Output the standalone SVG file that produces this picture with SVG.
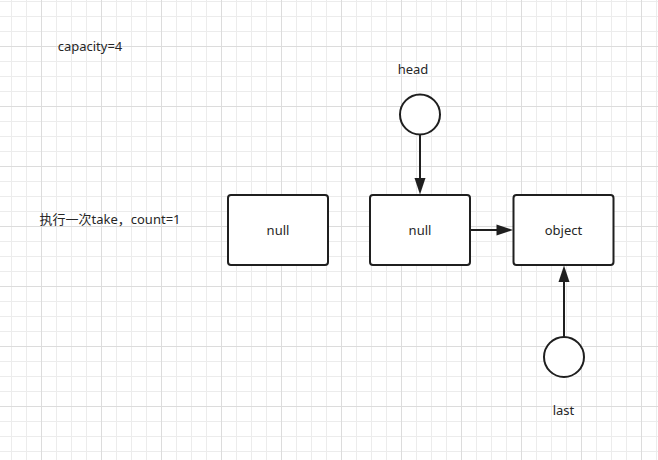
<svg xmlns="http://www.w3.org/2000/svg" width="658" height="460" viewBox="0 0 658 460">
<style>
.box{fill:#ffffff;stroke:#1f1f1f;stroke-width:2}
.circ{fill:#ffffff;stroke:#1f1f1f;stroke-width:2}
.edge{fill:none;stroke:#1f1f1f;stroke-width:2}
.lbl{font-family:"Noto Sans","Noto Sans CJK SC",sans-serif;font-size:13px;fill:#262626}
</style>
<defs>
<pattern id="minor" patternUnits="userSpaceOnUse" x="11" y="1" width="15" height="15">
<path d="M0 0.5H15M0.5 0V15" fill="none" stroke="#ececec" stroke-width="1"/>
</pattern>
<pattern id="major" patternUnits="userSpaceOnUse" x="41" y="46" width="60" height="60">
<path d="M0 0.5H60M0.5 0V60" fill="none" stroke="#dcdcdc" stroke-width="1"/>
</pattern>
<marker id="arrow" viewBox="0 0 10 10" refX="10" refY="5" markerWidth="8.5" markerHeight="5" markerUnits="userSpaceOnUse" orient="auto" preserveAspectRatio="none">
<path d="M0 0L10 5L0 10Z" fill="#1f1f1f"/>
</marker>
</defs>
<rect width="658" height="460" fill="#ffffff"/>
<rect width="658" height="460" fill="url(#minor)"/>
<rect width="658" height="460" fill="url(#major)"/>
<g id="labels">
<text class="lbl" x="90" y="50.5" text-anchor="middle">capacity=4</text>
<text class="lbl" x="110" y="223.5" text-anchor="middle">执行一次take，count=1</text>
</g>
<g id="connectors">
<path class="edge" d="M420 135V180"/>
<path d="M414.5 178L425.5 178L420 194.5Z" fill="#1f1f1f"/>
<path class="edge" d="M470 230H498"/>
<path d="M496.5 224.5L496.5 235.5L513 230Z" fill="#1f1f1f"/>
<path class="edge" d="M564 337V280"/>
<path d="M558.5 282L569.5 282L564 265.5Z" fill="#1f1f1f"/>
</g>
<g id="node-null1">
<rect class="box" x="228" y="195" width="100" height="70" rx="3"/>
<text class="lbl" x="278" y="234.5" text-anchor="middle">null</text>
</g>
<g id="node-null2">
<rect class="box" x="370" y="195" width="100" height="70" rx="3"/>
<text class="lbl" x="420" y="234.5" text-anchor="middle">null</text>
</g>
<g id="node-object">
<rect class="box" x="513.5" y="195" width="100" height="70" rx="3"/>
<text class="lbl" x="563.5" y="234.5" text-anchor="middle">object</text>
</g>
<g id="node-head">
<circle class="circ" cx="420" cy="114.5" r="20"/>
<text class="lbl" x="413" y="74" text-anchor="middle">head</text>
</g>
<g id="node-last">
<circle class="circ" cx="564" cy="357" r="20"/>
<text class="lbl" x="563.5" y="415" text-anchor="middle">last</text>
</g>
</svg>
